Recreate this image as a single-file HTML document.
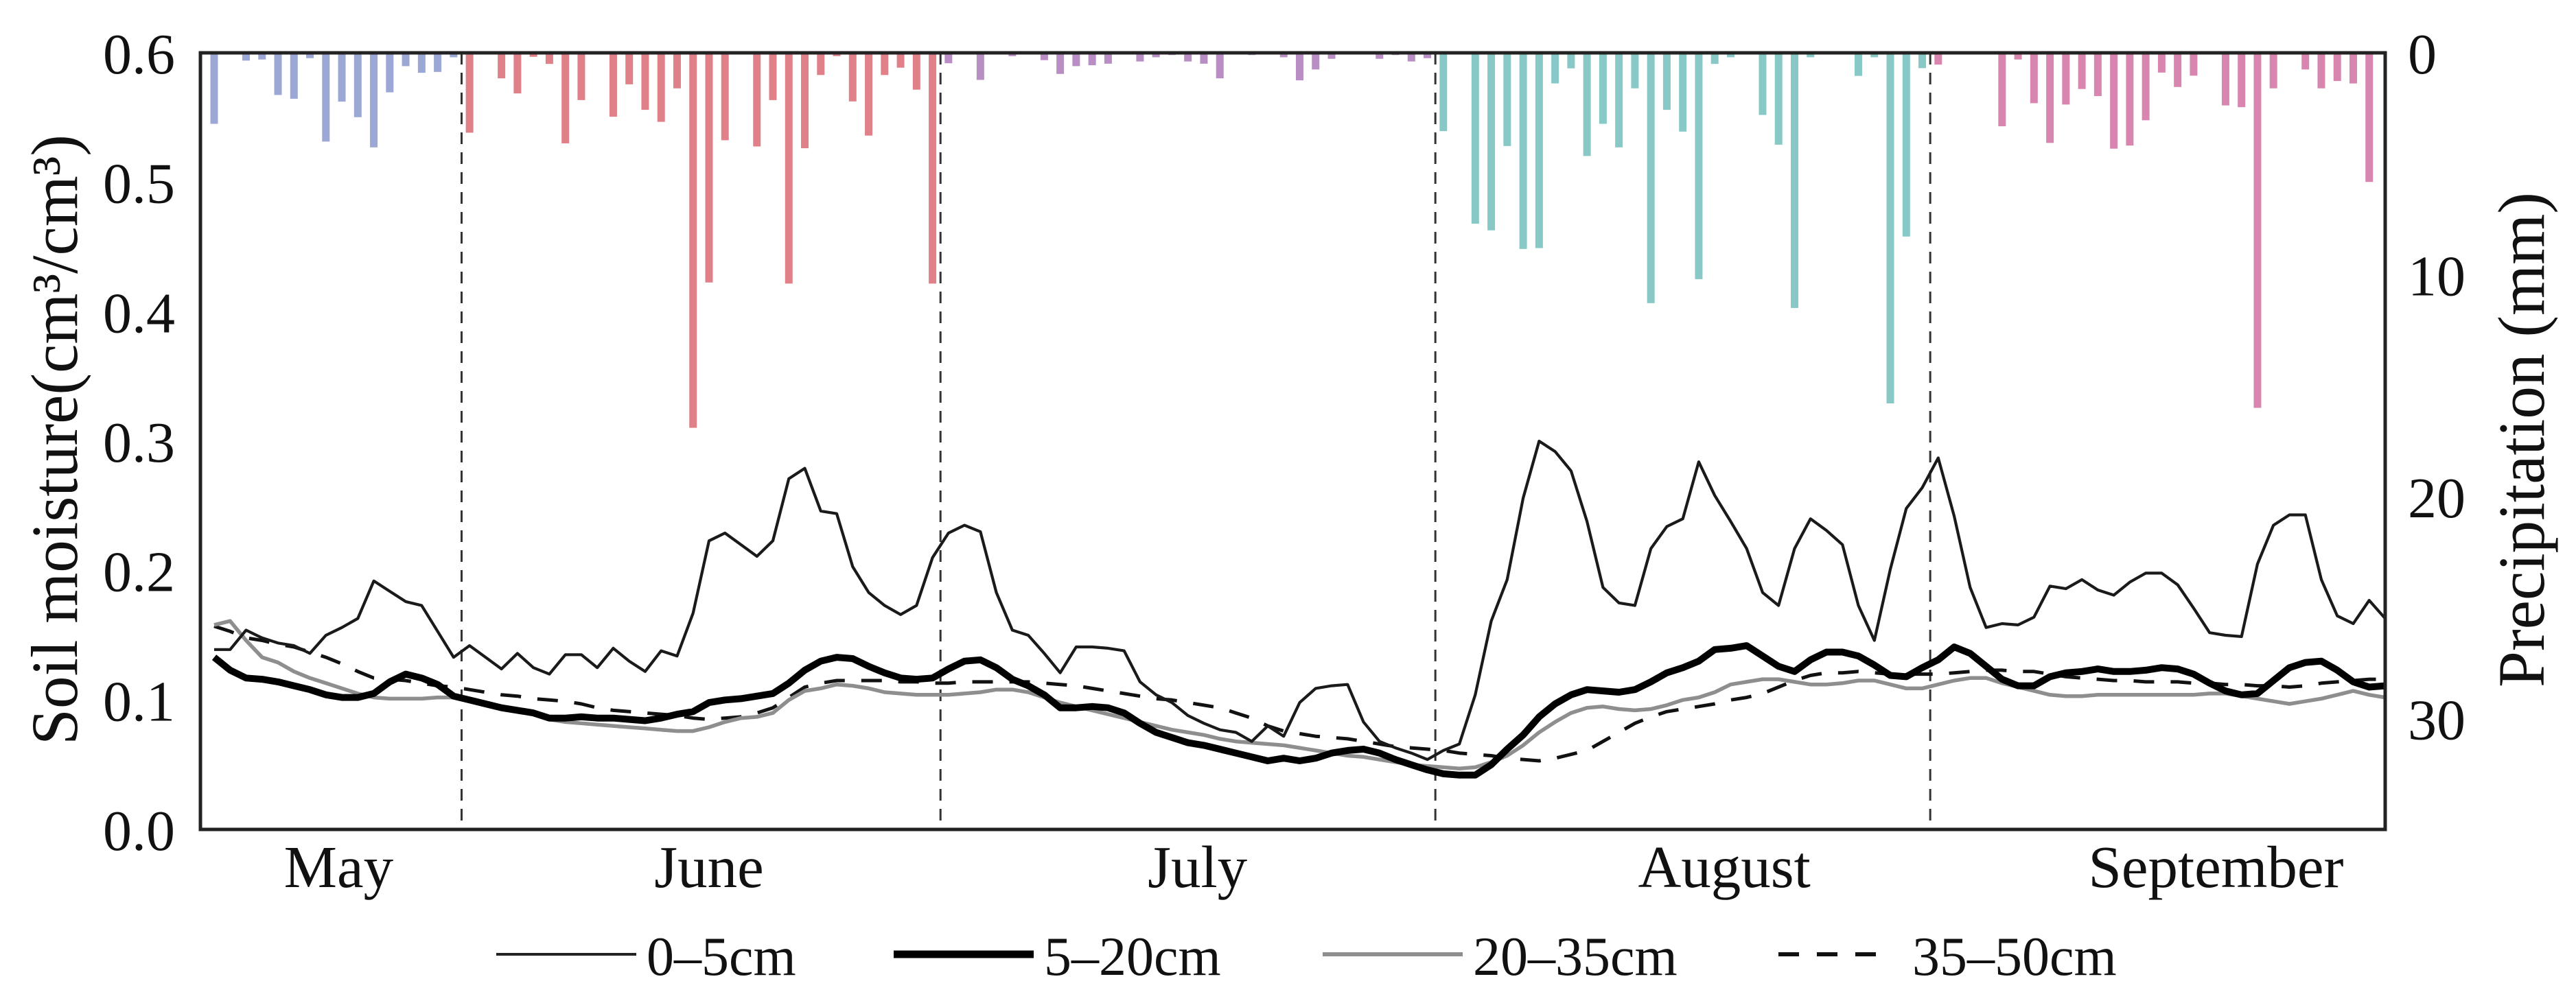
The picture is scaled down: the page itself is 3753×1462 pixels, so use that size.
<!DOCTYPE html>
<html><head><meta charset="utf-8">
<style>
html,body{margin:0;padding:0;background:#fff;}
svg{display:block;}
text{font-family:"Liberation Serif","Times New Roman",serif;fill:#111;}
</style></head>
<body>
<svg id="chart" width="3753" height="1462" viewBox="0 0 3753 1462" xmlns="http://www.w3.org/2000/svg">
<g id="bars"></g>
<g id="vlines"></g>
<g id="series"></g>
<rect x="292" y="77" width="3183" height="1132" fill="none" stroke="#222" stroke-width="5"/>
<g id="yticks"></g>
<g id="rticks"></g>
<g id="months"></g>
<text transform="translate(112,641) rotate(-90)" text-anchor="middle" font-size="96" textLength="890" lengthAdjust="spacingAndGlyphs">Soil moisture(cm³/cm³)</text>
<text transform="translate(3706,641) rotate(-90)" text-anchor="middle" font-size="96" textLength="722" lengthAdjust="spacingAndGlyphs">Precipitation (mm)</text>
<g id="legend"></g>
</svg>
<script>
const NS="http://www.w3.org/2000/svg";
const precip=[3.2,0,0.35,0.3,1.9,2.07,0.24,4.0,2.2,2.9,4.26,1.78,0.6,0.9,0.86,0.2,
3.6,0.05,1.15,1.83,0.18,0.5,4.08,2.13,0,2.88,1.42,2.57,3.11,1.6,16.9,10.35,3.94,0,4.22,2.13,10.4,4.3,1.0,0.15,2.19,3.73,1.0,0.67,1.66,10.4,
0.47,0,1.22,0,0.15,0,0.33,0.95,0.6,0.56,0.49,0,0.39,0.2,0.1,0.39,0.49,1.15,0,0.1,0,0.2,1.24,0.75,0.27,0,0,0.27,0.1,0.39,0.24,
3.53,0,7.7,8.0,4.2,8.84,8.8,1.38,0.7,4.65,3.2,4.26,1.6,11.28,2.57,3.55,10.2,0.5,0.2,0,2.8,4.14,11.5,0.2,0,0,1.04,0.2,15.8,8.28,0.69,
0.53,0,0,0,3.31,0.3,2.27,4.06,2.33,1.63,1.95,4.32,4.18,3.04,0.89,1.54,1.03,0,2.37,2.45,16.0,1.6,0,0.75,1.6,1.27,1.38,5.82,0];
const sm0_5=[.139,.139,.154,.148,.144,.142,.136,.150,.156,.163,.192,.184,.176,.173,.153,.133,.142,.133,.124,.136,.125,.120,.135,.135,.125,.140,.130,.122,.138,.134,.167,.223,.229,.220,.211,.223,.271,.279,.246,.244,.203,.183,.173,.166,.173,.210,.229,.235,.230,.183,.154,.150,.136,.121,.141,.141,.140,.138,.114,.104,.098,.088,.082,.077,.075,.068,.080,.072,.098,.109,.111,.112,.083,.068,.063,.059,.054,.061,.066,.104,.161,.193,.256,.300,.292,.277,.238,.187,.175,.173,.217,.234,.240,.284,.258,.238,.217,.183,.173,.217,.240,.231,.220,.173,.146,.201,.248,.264,.287,.242,.187,.156,.159,.158,.164,.188,.186,.193,.185,.181,.191,.198,.198,.189,.171,.152,.150,.149,.205,.235,.243,.243,.193,.165,.159,.177,.163];
const sm5_20=[.133,.123,.117,.116,.114,.111,.108,.104,.102,.102,.105,.114,.120,.117,.112,.103,.100,.097,.094,.092,.090,.086,.086,.087,.086,.086,.085,.084,.086,.089,.091,.098,.100,.101,.103,.105,.113,.123,.130,.133,.132,.126,.121,.117,.116,.117,.124,.130,.131,.125,.116,.111,.104,.094,.094,.095,.094,.090,.082,.075,.071,.067,.065,.062,.059,.056,.053,.055,.053,.055,.059,.061,.062,.059,.054,.050,.046,.043,.042,.042,.050,.062,.073,.087,.097,.104,.108,.107,.106,.108,.114,.121,.125,.130,.139,.140,.142,.134,.126,.122,.131,.137,.137,.134,.127,.119,.118,.125,.131,.141,.136,.126,.116,.111,.111,.118,.121,.122,.124,.122,.122,.123,.125,.124,.120,.113,.107,.104,.105,.115,.125,.129,.130,.123,.114,.110,.111];
const sm20_35=[.158,.161,.146,.133,.129,.122,.117,.113,.109,.105,.102,.101,.101,.101,.102,.102,.100,.097,.094,.091,.089,.085,.083,.082,.081,.080,.079,.078,.077,.076,.076,.079,.083,.086,.087,.090,.100,.107,.109,.112,.111,.109,.106,.105,.104,.104,.104,.105,.106,.108,.108,.106,.102,.098,.095,.092,.089,.086,.083,.080,.077,.075,.073,.070,.068,.067,.066,.065,.063,.061,.059,.057,.056,.054,.052,.050,.049,.048,.047,.048,.052,.057,.065,.075,.083,.090,.094,.095,.093,.092,.093,.096,.100,.102,.106,.112,.114,.116,.116,.114,.112,.112,.113,.115,.115,.112,.109,.109,.112,.115,.117,.117,.113,.110,.107,.104,.103,.103,.104,.104,.104,.104,.104,.104,.104,.105,.105,.103,.101,.099,.097,.099,.101,.104,.107,.104,.102];
const sm35_50=[.157,.153,.148,.146,.143,.141,.137,.133,.128,.122,.117,.116,.115,.113,.111,.110,.108,.106,.104,.103,.101,.100,.099,.097,.094,.092,.091,.090,.089,.088,.086,.085,.086,.087,.090,.094,.102,.110,.113,.115,.115,.115,.115,.114,.114,.113,.113,.114,.114,.114,.114,.114,.113,.112,.111,.109,.107,.105,.103,.101,.100,.098,.096,.094,.090,.086,.080,.076,.074,.072,.071,.070,.068,.066,.064,.063,.062,.061,.059,.058,.057,.055,.054,.053,.055,.058,.061,.068,.075,.082,.087,.091,.093,.095,.097,.100,.102,.105,.110,.115,.119,.121,.121,.122,.121,.120,.120,.120,.120,.121,.122,.123,.123,.122,.122,.120,.118,.117,.116,.115,.115,.114,.114,.114,.113,.113,.112,.112,.111,.111,.110,.111,.113,.114,.115,.116,.116];
const yTicks=[0.0,0.1,0.2,0.3,0.4,0.5,0.6];
const yTickLabels=["0.0","0.1","0.2","0.3","0.4","0.5","0.6"];
const pTicks=[0,10,20,30];
const months=["May","June","July","August","September"];
const monthCenterDay=[7.8,31,61.6,94.6,125.4];
const monthStartDay=[0,16,46,77,108];
const monthColors=["#9ba7d4","#e08189","#b98ec4","#88c9c7","#d886b0"];
const legendLabels=["0–5cm","5–20cm","20–35cm","35–50cm"];

const L=292,R=3475,T=77,B=1209;
const x=i=>312+i*(R-312)/136;
const y=v=>B-(v/0.6)*(B-T);
const py=p=>T+(p/35)*(B-T);

function mk(tag,attrs,parent){const e=document.createElementNS(NS,tag);for(const k in attrs)e.setAttribute(k,attrs[k]);parent.appendChild(e);return e;}
const bars=document.getElementById('bars');
precip.forEach((p,i)=>{
  if(p<=0) return;
  let m=0;for(let k=0;k<monthStartDay.length;k++) if(i>=monthStartDay[k]) m=k;
  const r=mk('rect',{x:x(i)-5.5,y:T,width:11,height:py(p)-T,fill:monthColors[m]},bars);
  
  
});
const vl=document.getElementById('vlines');
monthStartDay.slice(1).forEach(d=>{
  const l=mk('line',{x1:x(d-0.5),x2:x(d-0.5),y1:T,y2:B,stroke:'#333','stroke-width':3,'stroke-dasharray':'17 12'},vl);
  
  
});
const ser=document.getElementById('series');
const styles=[
 {data:sm35_50,stroke:'#111',w:5,dash:'30 24',name:'line-35-50cm'},
 {data:sm20_35,stroke:'#8e8e8e',w:5.5,dash:'',name:'line-20-35cm'},
 {data:sm5_20,stroke:'#000',w:10,dash:'',name:'line-5-20cm'},
 {data:sm0_5,stroke:'#1a1a1a',w:4.2,dash:'',name:'line-0-5cm'}];
styles.forEach(s=>{
  const d=s.data.map((v,i)=>(i?'L':'M')+x(i).toFixed(1)+','+y(v).toFixed(1)).join('');
  const p=mk('path',{d:d,fill:'none',stroke:s.stroke,'stroke-width':s.w,'stroke-linejoin':'round'},ser);
  if(s.dash)p.setAttribute('stroke-dasharray',s.dash);
  
  
});
const yt=document.getElementById('yticks');
yTicks.forEach((v,k)=>{
  const t=mk('text',{x:255,y:y(v)+30,'text-anchor':'end','font-size':84},yt);
  t.textContent=yTickLabels[k];
  
  
});
const rt=document.getElementById('rticks');
pTicks.forEach(v=>{
  const t=mk('text',{x:3508,y:py(v)+30,'text-anchor':'start','font-size':84},rt);
  t.textContent=String(v);
  
  
});
const mo=document.getElementById('months');
months.forEach((m,k)=>{
  const t=mk('text',{x:x(monthCenterDay[k]),y:1293,'text-anchor':'middle','font-size':87},mo);
  t.textContent=m;
  
  
});
const lg=document.getElementById('legend');
const lx=[723,1302,1927,2591];
const lstyle=[['#222',4,''],['#000',11,''],['#8e8e8e',6,''],['#111',6,'30 26']];
legendLabels.forEach((lab,k)=>{
  const ln=mk('line',{x1:lx[k],x2:lx[k]+(k==3?160:204),y1:1391,y2:1391,stroke:lstyle[k][0],'stroke-width':lstyle[k][1]},lg);
  if(lstyle[k][2])ln.setAttribute('stroke-dasharray',lstyle[k][2]);
  
  
  const t=mk('text',{x:lx[k]+(k==3?195:219),y:1421,'font-size':80},lg);
  t.textContent=lab;
  
  
});
</script>
</body></html>
